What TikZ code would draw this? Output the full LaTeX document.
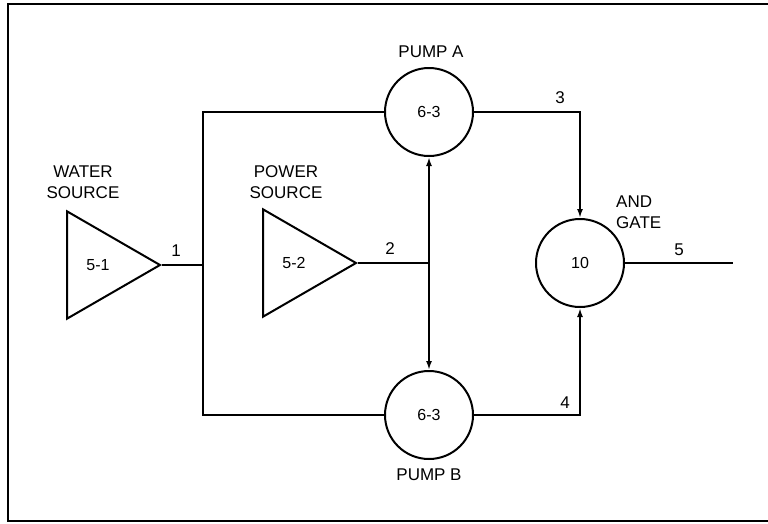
\documentclass[tikz,border=0pt]{standalone}
\usepackage{fontspec}
\setmainfont{Liberation Sans}
\usetikzlibrary{shapes.geometric,arrows.meta}
\tikzset{
  wire/.style={line width=2pt},
  arr/.style={wire,-{Latex[length=9pt,width=6pt]}},
  src/.style={draw,line width=2pt,regular polygon,regular polygon sides=3,shape border rotate=-90,minimum size=124pt,inner sep=0pt,font=\fontsize{16}{18}\selectfont},
  unit/.style={draw,line width=2pt,circle,minimum size=88pt,inner sep=0pt,font=\fontsize{16}{18}\selectfont},
  lbl/.style={font=\fontsize{17}{21}\selectfont,inner sep=0pt,align=center},
  num/.style={font=\fontsize{17}{19}\selectfont,inner sep=0pt}
}
\begin{document}
\begin{tikzpicture}[x=1pt,y=-1pt]
\useasboundingbox (0,0) rectangle (768,523);
% frame (open on the right)
\draw[line width=2.2pt] (768,4) -- (8,4) -- (8,521) -- (768,521);
% nodes
\node[src] (w) at (98,265) {5-1};
\node[src] (p) at (294,263) {5-2};
\node[unit] (pa) at (429,112) {6-3};
\node[unit] (pb) at (429,415) {6-3};
\node[unit] (ag) at (580,263) {10};
\coordinate (j1) at (203,265);
\coordinate (j2) at (429,263);
\coordinate (out) at (733,263);
% labels
\node[lbl] (tw) at (83,182) {WATER\\SOURCE};
\node[lbl] (tp) at (286,182) {POWER\\SOURCE};
\node[lbl] (tpa) at (431,52) {PUMP A};
\node[lbl] (tpb) at (429,475) {PUMP B};
\node[lbl,align=left,anchor=west] (tag) at (616,212) {AND\\GATE};
\node[num] (n1) at (176,251) {1};
\node[num] (n2) at (390,249) {2};
\node[num] (n3) at (560,98) {3};
\node[num] (n4) at (565,403) {4};
\node[num] (n5) at (679,250) {5};
% connectors
\draw[wire] (w.corner 1) -- (j1);
\draw[wire] (pa.west) -| (j1) |- (pb.west);
\draw[wire] (p.corner 1) -- (j2);
\draw[arr] (j2) -- (pa.south);
\draw[arr] (j2) -- (pb.north);
\draw[arr] (pa.east) -| (ag.north);
\draw[arr] (pb.east) -| (ag.south);
\draw[wire] (ag.east) -- (out);
\end{tikzpicture}
\end{document}
